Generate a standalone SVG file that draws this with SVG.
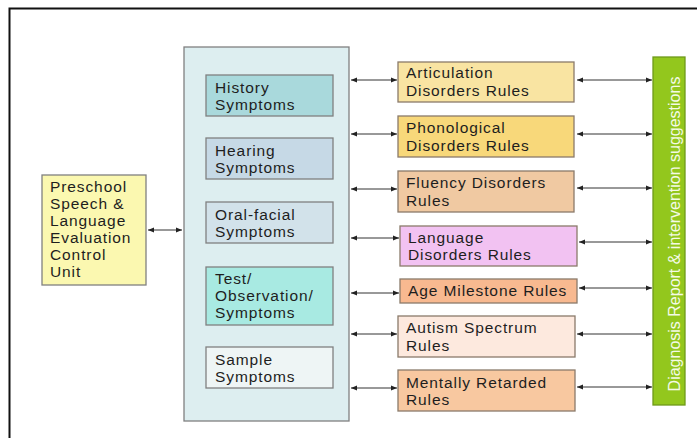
<svg xmlns="http://www.w3.org/2000/svg" width="697" height="438" viewBox="0 0 697 438">
<defs>
<marker id="ah" viewBox="0 0 6 6" refX="6" refY="3" markerWidth="6" markerHeight="6" markerUnits="userSpaceOnUse" orient="auto-start-reverse">
<path d="M0,0.5 L6,3 L0,5.5 z" fill="#222"/>
</marker>
<style>
.t{font-family:"Liberation Sans",Arial,sans-serif;font-size:15.5px;letter-spacing:0.9px;fill:#1e1e1e}
.b{stroke:#808080;stroke-width:1.3}
.r{stroke:#8a7a6a;stroke-width:1.3}
.c line{stroke:#333;stroke-width:1;marker-start:url(#ah);marker-end:url(#ah)}
</style>
</defs>
<rect width="697" height="438" fill="#fff"/>
<path d="M9.5,440 V8.5 H700" fill="none" stroke="#111" stroke-width="2"/>

<g id="control">
<rect class="b" x="42" y="175" width="104" height="110" fill="#fbf8b0"/>
<text class="t" x="50"><tspan x="50" y="192">Preschool</tspan><tspan x="50" y="209">Speech &amp;</tspan><tspan x="50" y="226">Language</tspan><tspan x="50" y="243">Evaluation</tspan><tspan x="50" y="260">Control</tspan><tspan x="50" y="277">Unit</tspan></text>
</g>

<g id="symptoms">
<rect class="b" x="184" y="47" width="165" height="374" fill="#ddeef0"/>
</g>
<g id="history">
<rect class="b" x="206" y="75" width="127" height="41" fill="#a9d9dc"/>
<text class="t"><tspan x="215" y="93">History</tspan><tspan x="215" y="110">Symptoms</tspan></text>
</g>
<g id="hearing">
<rect class="b" x="206" y="138" width="127" height="41" fill="#c6d9e6"/>
<text class="t"><tspan x="215" y="156">Hearing</tspan><tspan x="215" y="173">Symptoms</tspan></text>
</g>
<g id="oral">
<rect class="b" x="206" y="202" width="127" height="41" fill="#d2e2ea"/>
<text class="t"><tspan x="215" y="220">Oral-facial</tspan><tspan x="215" y="237">Symptoms</tspan></text>
</g>
<g id="test">
<rect class="b" x="206" y="267" width="127" height="58" fill="#a8eae2"/>
<text class="t"><tspan x="215" y="284">Test/</tspan><tspan x="215" y="301">Observation/</tspan><tspan x="215" y="318">Symptoms</tspan></text>
</g>
<g id="sample">
<rect class="b" x="206" y="347" width="127" height="41" fill="#eef5f5"/>
<text class="t"><tspan x="215" y="365">Sample</tspan><tspan x="215" y="382">Symptoms</tspan></text>
</g>

<g id="articulation">
<rect class="r" x="398" y="62" width="176" height="40" fill="#f9e4a2"/>
<text class="t"><tspan x="406" y="78">Articulation</tspan><tspan x="406" y="96">Disorders Rules</tspan></text>
</g>
<g id="phonological">
<rect class="r" x="398" y="116" width="176" height="41" fill="#f8d87a"/>
<text class="t"><tspan x="406" y="133">Phonological</tspan><tspan x="406" y="151">Disorders Rules</tspan></text>
</g>
<g id="fluency">
<rect class="r" x="398" y="171" width="176" height="41" fill="#f0c9a2"/>
<text class="t"><tspan x="406" y="188">Fluency Disorders</tspan><tspan x="406" y="206">Rules</tspan></text>
</g>
<g id="language">
<rect class="r" x="400" y="226" width="177" height="40" fill="#f2c2f2"/>
<text class="t"><tspan x="408" y="243">Language</tspan><tspan x="408" y="260">Disorders Rules</tspan></text>
</g>
<g id="age">
<rect class="r" x="400" y="279" width="177" height="24" fill="#f8b990"/>
<text class="t" x="408" y="296">Age Milestone Rules</text>
</g>
<g id="autism">
<rect class="r" x="398" y="316" width="177" height="41" fill="#fde9de"/>
<text class="t"><tspan x="406" y="333">Autism Spectrum</tspan><tspan x="406" y="351">Rules</tspan></text>
</g>
<g id="retarded">
<rect class="r" x="398" y="370" width="177" height="41" fill="#f8c8a0"/>
<text class="t"><tspan x="406" y="388">Mentally Retarded</tspan><tspan x="406" y="405">Rules</tspan></text>
</g>

<g id="diagnosis">
<rect x="653" y="57" width="32" height="348" fill="#93c71d" stroke="#6f9a1a" stroke-width="1.3"/>
<text x="0" y="0" transform="translate(680,234) rotate(-90)" text-anchor="middle" style="font-family:'Liberation Sans',Arial,sans-serif;font-size:16px;fill:#f4fae6">Diagnosis Report &amp; intervention suggestions</text>
</g>

<g id="connectors" class="c">
<line x1="148" y1="230" x2="182" y2="230"/>
<line x1="351" y1="80" x2="397" y2="80"/>
<line x1="351" y1="134" x2="397" y2="134"/>
<line x1="351" y1="189" x2="397" y2="189"/>
<line x1="351" y1="238" x2="399" y2="238"/>
<line x1="351" y1="293" x2="399" y2="293"/>
<line x1="351" y1="334" x2="397" y2="334"/>
<line x1="351" y1="388" x2="397" y2="388"/>
<line x1="577" y1="80" x2="652" y2="80"/>
<line x1="577" y1="134" x2="652" y2="134"/>
<line x1="577" y1="188" x2="652" y2="188"/>
<line x1="579" y1="242" x2="652" y2="242"/>
<line x1="579" y1="288" x2="652" y2="288"/>
<line x1="577" y1="334" x2="652" y2="334"/>
<line x1="577" y1="387" x2="652" y2="387"/>
</g>
</svg>
